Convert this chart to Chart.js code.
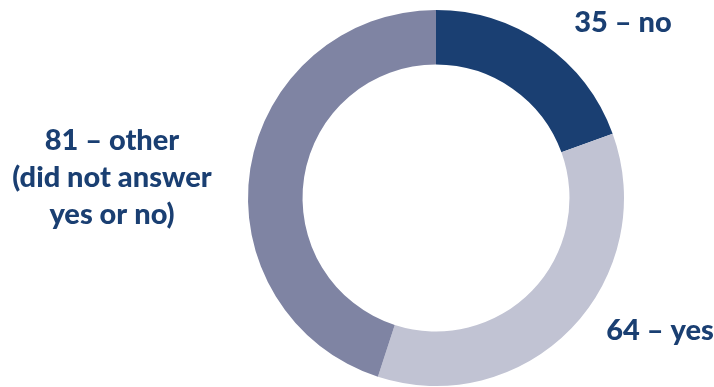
<!DOCTYPE html>
<html>
<head>
<meta charset="utf-8">
<script src="https://cdn.jsdelivr.net/npm/chart.js@4"></script>
<style>
  html, body { margin: 0; padding: 0; background: #fff; }
  #wrap { width: 714px; height: 387px; position: relative; }
</style>
</head>
<body>
<div id="wrap"><canvas id="donut_chart"></canvas></div>
<script>
const categories = ['no', 'yes', 'other'];
const counts = [35, 64, 81];
const labelLines = [
    ['35 – no'],
    ['64 – yes'],
    ['81 – other', '(did not answer', 'yes or no)']
];
const colors = ['#1a3f72', '#c1c3d3', '#7f84a3'];

// text labels placed beside the ring, like the original slide
const sliceLabels = {
    id: 'sliceLabels',
    afterDraw(chart) {
        const ctx = chart.ctx;
        const spots = [
            { x: 623, y: 23 },
            { x: 660, y: 331 },
            { x: 112, y: 141 }
        ];
        ctx.save();
        ctx.fillStyle = '#1a3f72';
        ctx.font = '900 29px Lato';
        ctx.textAlign = 'center';
        ctx.textBaseline = 'middle';
        labelLines.forEach((lines, i) => {
            lines.forEach((line, j) => {
                ctx.fillText(line, spots[i].x, spots[i].y + j * 37);
            });
        });
        ctx.restore();
    }
};

new Chart(document.getElementById('donut_chart'), {
    type: 'doughnut',
    data: {
        labels: categories,
        datasets: [{
            data: counts,
            backgroundColor: colors,
            borderWidth: 0
        }]
    },
    options: {
        responsive: true,
        maintainAspectRatio: false,
        animation: false,
        cutout: '71%',
        layout: { padding: { left: 248, right: 90, top: 10, bottom: 1 } },
        plugins: {
            legend: { display: false },
            tooltip: { enabled: false }
        }
    },
    plugins: [sliceLabels]
});
</script>
</body>
</html>
